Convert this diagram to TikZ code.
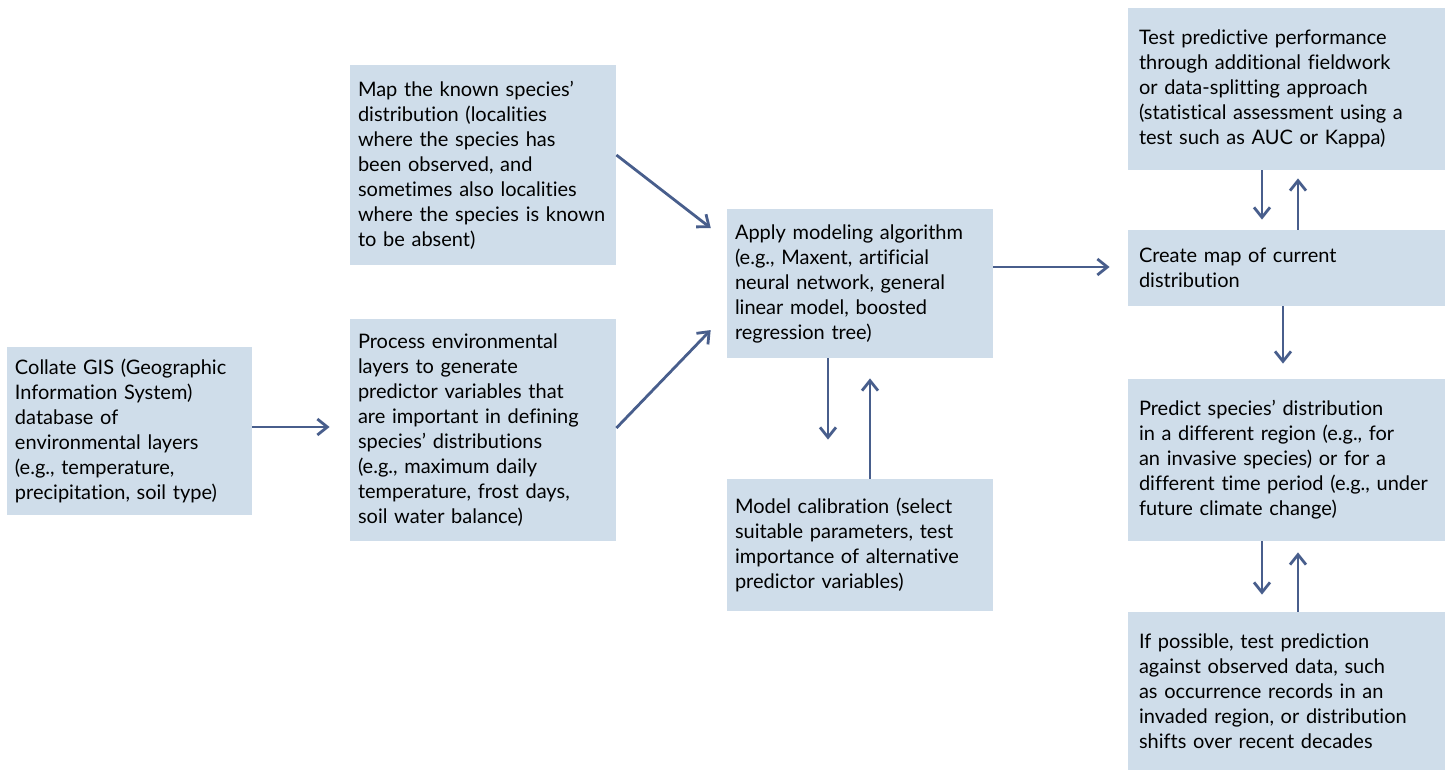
\documentclass[tikz,border=0pt]{standalone}
\usepackage{fontspec}
\setmainfont{Lato}[Ligatures=NoCommon]
\usetikzlibrary{arrows.meta,positioning,calc}
\definecolor{boxfill}{RGB}{207,221,234}
\definecolor{arrowblue}{RGB}{72,94,140}
\tikzset{
    stepbox/.style = {
        fill = boxfill,
        inner xsep = 4pt,
        align = left,
        font = \fontsize{10}{12.5}\selectfont,
        },
    narrow/.style = {
        minimum width = 133pt,
        text width = 125pt,
        },
    wide/.style = {
        inner xsep = 5.5pt,
        minimum width = 158.5pt,
        text width = 147.5pt,
        },
    flow/.style = {
        draw = arrowblue,
        line width = 1.4pt,
        -{Straight Barb[length=5pt,width=8pt,line width=1.4pt]},
        },
}

\begin{document}
\begin{tikzpicture}[x=0.5pt,y=-0.5pt]
            \useasboundingbox (0,0) rectangle (1448,770);

            \node[stepbox, minimum width=122.5pt, text width=114.5pt, minimum height=84pt] (collate) at (129.5,431) {Collate GIS (Geographic\\Information System)\\database of\\environmental layers\\(e.g., temperature,\\precipitation, soil type)};
            \node[stepbox, narrow, minimum height=100pt] (map) at (483,165) {Map the known species'\\distribution (localities\\where the species has\\been observed, and\\sometimes also localities\\where the species is known\\to be absent)};
            \node[stepbox, narrow, minimum height=111pt] (process) at (483,430) {Process environmental\\layers to generate\\predictor variables that\\are important in defining\\species' distributions\\(e.g., maximum daily\\temperature, frost days,\\soil water balance)};
            \node[stepbox, narrow, minimum height=74.5pt] (apply) at (860,283.5) {Apply modeling algorithm\\(e.g., Maxent, artificial\\neural network, general\\linear model, boosted\\regression tree)};
            \node[stepbox, narrow, minimum height=66pt] (calib) at (860,545) {Model calibration (select\\suitable parameters, test\\importance of alternative\\predictor variables)};
            \node[stepbox, wide, minimum height=81pt] (test) at (1286.5,89) {Test predictive performance\\through additional fieldwork\\or data-splitting approach\\(statistical assessment using a\\test such as AUC or Kappa)};
            \node[stepbox, wide, minimum height=38pt] (create) at (1286.5,268) {Create map of current\\distribution};
            \node[stepbox, wide, minimum height=81pt] (predict) at (1286.5,460) {Predict species' distribution\\in a different region (e.g., for\\an invasive species) or for a\\different time period (e.g., under\\future climate change)};
            \node[stepbox, wide, minimum height=79pt] (possible) at (1286.5,691) {If possible, test prediction\\against observed data, such\\as occurrence records in an\\invaded region, or distribution\\shifts over recent decades};

            \draw[flow, shorten >=10pt] (collate.east |- 0,427) -- (process.west |- 0,427);
            \draw[flow, shorten >=10pt] ([yshift=5pt]map.east) -- ([yshift=21.6pt]apply.west);
            \draw[flow, shorten >=11.5pt] ([yshift=1pt]process.east) -- ([yshift=-15pt]apply.west);
            \draw[flow, shorten >=19.5pt] ([xshift=-16pt]apply.south) -- ([xshift=-16pt]calib.north);
            \draw[flow, shorten >=10pt] ([xshift=5pt]calib.north) -- ([xshift=5pt]apply.south);
            \draw[flow, shorten >=9pt] (apply.east |- 0,267) -- (create.west |- 0,267);
            \draw[flow, shorten >=5pt] ([xshift=-12.25pt]test.south) -- ([xshift=-12.25pt]create.north);
            \draw[flow, shorten >=4pt] ([xshift=5.75pt]create.north) -- ([xshift=5.75pt]test.south);
            \draw[flow, shorten >=7.5pt] ([xshift=-1.75pt]create.south) -- ([xshift=-1.75pt]predict.north);
            \draw[flow, shorten >=8.5pt] ([xshift=-12.25pt]predict.south) -- ([xshift=-12.25pt]possible.north);
            \draw[flow, shorten >=5.5pt] ([xshift=5.75pt]possible.north) -- ([xshift=5.75pt]predict.south);
        \end{tikzpicture}
\end{document}
